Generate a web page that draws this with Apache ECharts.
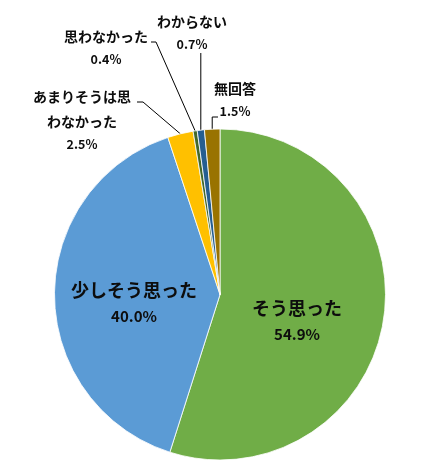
<!DOCTYPE html>
<html><head><meta charset="utf-8">
<script src="https://cdn.jsdelivr.net/npm/echarts@6/dist/echarts.min.js"></script>
<style>html,body{margin:0;padding:0;background:#fff}#c{width:431px;height:476px}</style>
</head><body><div id="c"></div>
<script>
// ---- data ----
const categories = ['そう思った', '少しそう思った', 'あまりそうは思わなかった', '思わなかった', 'わからない', '無回答'];
const labelTexts = ['そう思った', '少しそう思った', 'あまりそうは思\nわなかった', '思わなかった', 'わからない', '無回答'];
const values = [54.9, 40.0, 2.5, 0.4, 0.7, 1.5];
const colors = ['#70AD47', '#5B9BD5', '#FFC000', '#43682B', '#255E91', '#997300'];

// ---- label placement (block centre) and leader-line bends ----
const labelPos = [
  { x: 297, y: 320, inside: true },
  { x: 134, y: 302, inside: true },
  { x: 82, y: 119.5, bend: [[143, 102], [137, 102]] },
  { x: 106, y: 47, bend: [[156, 42], [151, 42]] },
  { x: 192, y: 32, vTop: 53 },
  { x: 235, y: 99, hTop: 117, endX: 218 }
];

const FONT = '"Noto Sans CJK JP", "Noto Sans", sans-serif';
const chart = echarts.init(document.getElementById('c'), null, { renderer: 'canvas' });

const data = categories.map((name, i) => {
  const inside = !!labelPos[i].inside;
  return {
    name: name,
    value: values[i],
    itemStyle: { color: colors[i] },
    label: { position: inside ? 'inside' : 'outside' },
    labelLine: { show: !inside }
  };
});

chart.setOption({
  backgroundColor: '#fff',
  animation: false,
  series: [{
    type: 'pie',
    center: [220, 294.5],
    radius: [0, 165.5],
    startAngle: 90,
    clockwise: true,
    avoidLabelOverlap: false,
    itemStyle: { borderColor: '#fff', borderWidth: 0.8 },
    data: data,
    label: {
      show: true,
      color: '#0d0d0d',
      fontFamily: FONT,
      fontWeight: 'bold',
      formatter: function (p) {
        const i = p.dataIndex;
        const inside = !!labelPos[i].inside;
        const nTag = inside ? 'N' : 'n';
        const pTag = inside ? 'P' : 'p';
        const lines = labelTexts[i].split('\n').map(t => '{' + nTag + '|' + t + '}');
        lines.push('{' + pTag + '|' + values[i].toFixed(1) + '%}');
        return lines.join('\n');
      },
      rich: {
        N: { fontFamily: FONT, fontWeight: 'bold', fontSize: 18, lineHeight: 28, color: '#0d0d0d', align: 'center' },
        P: { fontFamily: FONT, fontWeight: 'bold', fontSize: 15, lineHeight: 24, color: '#0d0d0d', align: 'center' },
        n: { fontFamily: FONT, fontWeight: 'bold', fontSize: 14, lineHeight: 25, color: '#0d0d0d', align: 'center' },
        p: { fontFamily: FONT, fontWeight: 'bold', fontSize: 12.5, lineHeight: 21, color: '#0d0d0d', align: 'center' }
      }
    },
    labelLine: {
      show: true,
      lineStyle: { color: '#000', width: 1 }
    },
    labelLayout: function (p) {
      const lp = labelPos[p.dataIndex];
      const out = { x: lp.x, y: lp.y, align: 'center', verticalAlign: 'middle' };
      if (!lp.inside && p.labelLinePoints) {
        const e = p.labelLinePoints[0];
        if (lp.bend) {
          out.labelLinePoints = [[e[0], e[1]], lp.bend[0], lp.bend[1]];
        } else if (lp.vTop !== undefined) {
          out.labelLinePoints = [[e[0], e[1]], [e[0], lp.vTop], [e[0], lp.vTop]];
        } else if (lp.hTop !== undefined) {
          out.labelLinePoints = [[e[0], e[1]], [e[0], lp.hTop], [lp.endX, lp.hTop]];
        }
      }
      return out;
    }
  }]
});
</script>
</body></html>
